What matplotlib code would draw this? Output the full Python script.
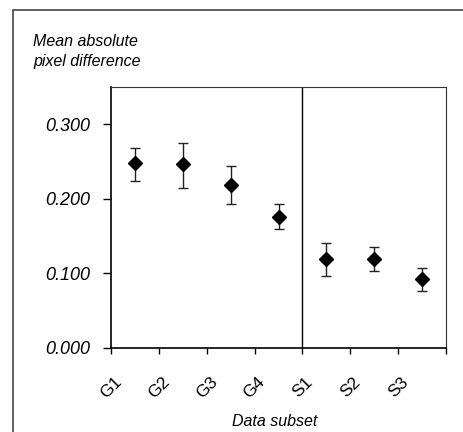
import matplotlib.pyplot as plt
import numpy as np
from matplotlib.patches import Rectangle

subsets = ["G1", "G2", "G3", "G4", "S1", "S2", "S3"]
mean_diff = [0.248, 0.247, 0.219, 0.176, 0.119, 0.119, 0.093]
err_low = [0.224, 0.215, 0.193, 0.160, 0.097, 0.103, 0.077]
err_high = [0.268, 0.275, 0.244, 0.193, 0.141, 0.135, 0.107]
yticks = [0.0, 0.1, 0.2, 0.3]

plt.rcParams["font.family"] = ["Liberation Sans", "DejaVu Sans"]

fig = plt.figure(figsize=(4.63, 4.32), dpi=100)
ax = fig.add_axes([111 / 463, 1 - 348 / 432, 335 / 463, 261 / 432])

x = np.arange(len(subsets))
mean_diff = np.array(mean_diff)
yerr = [mean_diff - np.array(err_low), np.array(err_high) - mean_diff]
ax.errorbar(x, mean_diff, yerr=yerr, fmt="D", color="black", ms=7.5,
            ecolor="#222222", elinewidth=1, capsize=3.5, capthick=1)

# divider between G and S groups
ax.axvline(3.5, color="black", lw=1)

ax.set_xlim(-0.5, len(subsets) - 0.5)
ax.set_ylim(0, 0.35)
ax.set_yticks(yticks)
ax.set_yticklabels(["%.3f" % v for v in yticks], fontsize=13, style="italic")
ax.set_xticks(np.arange(len(subsets) + 1) - 0.5)
ax.set_xticklabels(subsets + [""], rotation=45, ha="center", fontsize=12.5)
ax.tick_params(axis="y", direction="out", length=6, width=1, pad=9)
ax.tick_params(axis="x", direction="out", length=4, width=1, pad=15)

for s in ["top", "right"]:
    ax.spines[s].set_linestyle((0, (1.5, 1)))
    ax.spines[s].set_color("#333333")
for s in ["left", "bottom"]:
    ax.spines[s].set_linewidth(1.2)

ax.text(0.49, -0.283, "Data subset", transform=ax.transAxes, ha="center",
        va="center", fontsize=11.5, style="italic")
fig.text(33 / 463, 1 - 34 / 432, "Mean absolute\npixel difference", ha="left",
         va="top", fontsize=11.5, style="italic", linespacing=1.4)

fig.patches.append(Rectangle((13 / 463, -0.05), 1.1, 1 - 10 / 432 + 0.05,
                             transform=fig.transFigure, fill=False,
                             edgecolor="#444444", lw=1.2))

fig.savefig("out.png", dpi=100)
